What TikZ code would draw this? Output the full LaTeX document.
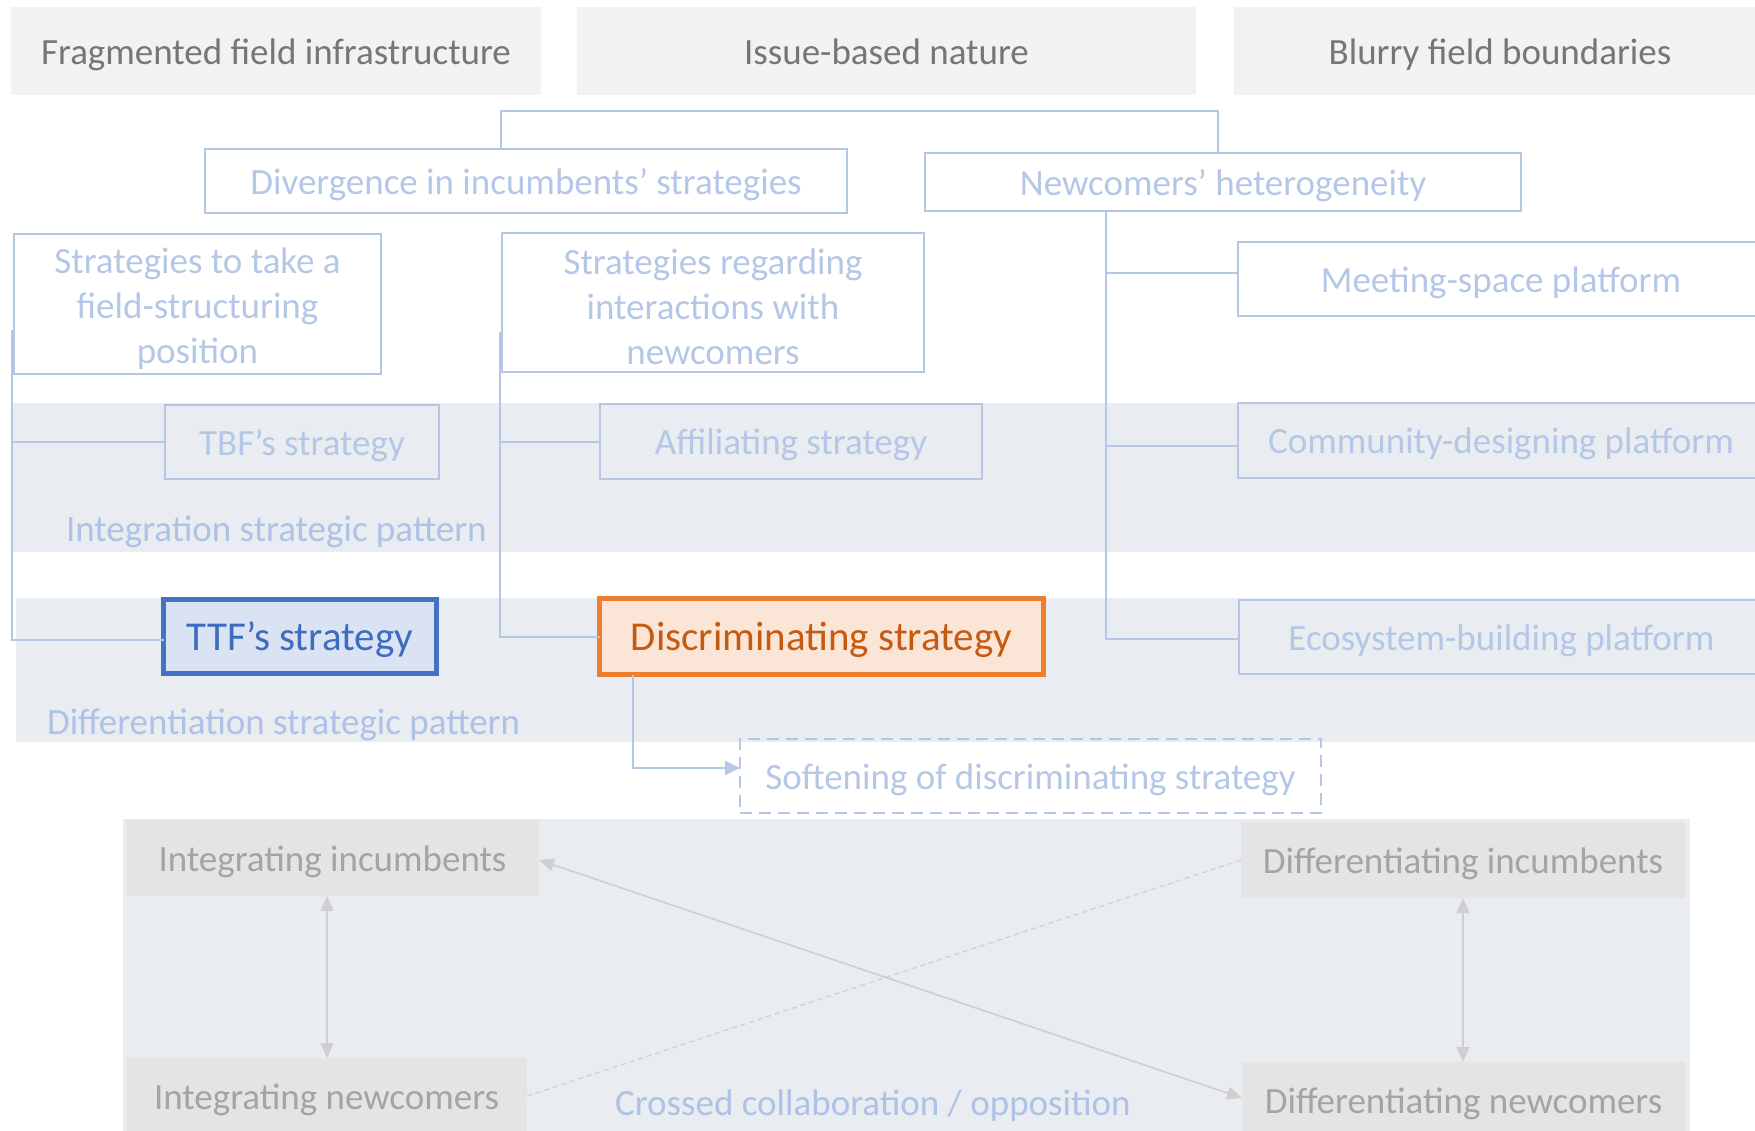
\documentclass[tikz,border=0pt]{standalone}
\usepackage{fontspec}
\setmainfont{Carlito}
\usetikzlibrary{arrows.meta}
\definecolor{lb}{HTML}{B4C7E7}
\definecolor{lbtext}{HTML}{ADC2E6}
\definecolor{bandfill}{HTML}{E9ECF1}
\definecolor{hdrfill}{HTML}{F2F2F2}
\definecolor{hdrtext}{HTML}{767676}
\definecolor{grayfill}{HTML}{E4E4E4}
\definecolor{graytext}{HTML}{A5A3A3}
\definecolor{arrgray}{HTML}{D0CECE}
\definecolor{ttfdraw}{HTML}{4472C4}
\definecolor{ttffill}{HTML}{DAE3F3}
\definecolor{ttftext}{HTML}{3F6CBF}
\definecolor{discdraw}{HTML}{ED7D31}
\definecolor{discfill}{HTML}{FBE5D6}
\definecolor{disctext}{HTML}{C55A11}
\begin{document}
\begin{tikzpicture}[x=1pt,y=-1pt,
  every node/.style={font=\fontsize{37}{45}\selectfont, inner sep=0pt, outer sep=0pt},
  one/.style={text height=32pt, text depth=5.4pt},
  onebig/.style={font=\fontsize{41}{48}\selectfont, text height=35pt, text depth=6.4pt},
  hdr/.style={one, fill=hdrfill, text=hdrtext, minimum height=88pt},
  mbox/.style={draw=lb, line width=2.5pt, text=lb},
  lbox/.style={mbox, one},
  dbox/.style={lbox, dash pattern=on 12pt off 7pt},
  gbox/.style={one, fill=grayfill, text=graytext, minimum height=76pt},
  band/.style={fill=bandfill},
  conn/.style={draw=lb, line width=2pt},
  garrow/.style={draw=arrgray, line width=1.6pt, {Triangle[length=15pt,width=13pt]}-{Triangle[length=15pt,width=13pt]}},
  bandlabel/.style={one, text=lbtext, anchor=west}
]
\useasboundingbox (0,0) rectangle (1755,1131);

% background bands
\fill[band] (13,403) rectangle (1755,552);
\fill[band] (16,598) rectangle (1755,742);
\fill[band] (123,819) rectangle (1690,1131);

% headers
\node[hdr, minimum width=530pt] (h1) at (276,51) {Fragmented field infrastructure};
\node[hdr, minimum width=619pt] (h2) at (886.5,51) {Issue-based nature};
\node[hdr, minimum width=532pt] (h3) at (1500,51) {Blurry field boundaries};

% second level
\node[lbox, minimum width=642pt, minimum height=64pt] (div) at (526,181) {Divergence in incumbents’ strategies};
\node[lbox, minimum width=596pt, minimum height=58pt] (nh) at (1223,182) {Newcomers’ heterogeneity};

% third level
\node[mbox, minimum width=367pt, minimum height=140pt, align=center] (s1) at (197.5,304) {\rule{0pt}{34pt}Strategies to take a\\field-structuring\\position};
\node[mbox, minimum width=422pt, minimum height=139pt, align=center] (s2) at (713,302.5) {\rule{0pt}{34pt}Strategies regarding\\interactions with\\newcomers};
\node[lbox, minimum width=526pt, minimum height=74pt] (msp) at (1501,279) {Meeting-space platform};

\node[lbox, minimum width=274pt, minimum height=74pt] (tbf) at (302,442) {TBF’s strategy};
\node[lbox, minimum width=382pt, minimum height=75pt] (aff) at (791,441.5) {Affiliating strategy};
\node[lbox, minimum width=526pt, minimum height=75pt] (cdp) at (1501,440.5) {Community-designing platform};

\node[onebig, draw=ttfdraw, fill=ttffill, line width=5pt, text=ttftext, minimum width=273pt, minimum height=74pt] (ttf) at (300,636.5) {TTF’s strategy};
\node[onebig, draw=discdraw, fill=discfill, line width=5pt, text=disctext, minimum width=444pt, minimum height=76pt] (disc) at (821.5,636.5) {Discriminating strategy};
\node[lbox, minimum width=525pt, minimum height=74pt] (ebp) at (1501.5,637) {Ecosystem-building platform};

\node[dbox, minimum width=581pt, minimum height=74pt] (soft) at (1030.5,776) {Softening of discriminating strategy};

% band labels
\node[bandlabel] (lint) at (66,528) {Integration strategic pattern};
\node[bandlabel] (ldif) at (47,721) {Differentiation strategic pattern};
\node[one, text=lbtext] (lcross) at (873,1102) {Crossed collaboration / opposition};

% bottom boxes
\node[gbox, minimum width=413pt] (ii) at (332.5,858) {Integrating incumbents};
\node[gbox, minimum width=401pt] (in) at (326.5,1096) {Integrating newcomers};
\node[gbox, minimum width=444pt] (di) at (1463,860) {Differentiating incumbents};
\node[gbox, minimum width=443pt] (dn) at (1463.5,1100) {Differentiating newcomers};

% connectors top
\draw[conn] ([xshift=-25pt]div.north) -- ++(0,-38) -| ([xshift=-5pt]nh.north);

% left tree
\coordinate (lc) at (12,330);
\draw[conn] (lc) |- ([yshift=-3pt]ttf.west);
\draw[conn] (lc |- tbf.west) -- (tbf.west);

% middle tree
\coordinate (mc) at (500,332);
\draw[conn] (mc) |- (disc.west);
\draw[conn] (mc |- aff.west) -- (aff.west);

% right tree
\coordinate (rc) at ([xshift=-117pt]nh.south);
\draw[conn] (rc) |- ([yshift=-2pt]ebp.west);
\draw[conn] (rc |- msp.west) ++(0,-6) -- ([yshift=6pt]msp.west);
\draw[conn] (rc |- cdp.west) ++(0,5) -- ([yshift=-5pt]cdp.west);

% discriminating to softening
\draw[draw=lb, line width=1.8pt, -{Triangle[length=15pt,width=14pt]}] ([xshift=-188.5pt]disc.south) |- ([yshift=8pt]soft.west);

% bottom arrows
\draw[garrow] ([xshift=-5.5pt]ii.south) -- ([xshift=-5.5pt]ii.south |- in.north);
\draw[garrow] (di.south) -- (di.south |- dn.north);
\draw[garrow] ([yshift=2pt]dn.west) -- ([yshift=-2pt]ii.east);
\draw[draw=arrgray, line width=1.2pt, dash pattern=on 5pt off 4pt] (in.east) -- (di.west);
\end{tikzpicture}
\end{document}
